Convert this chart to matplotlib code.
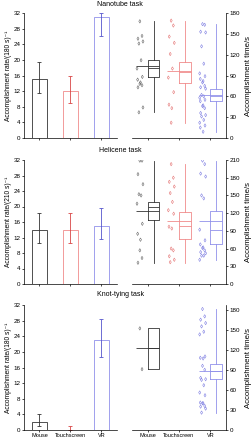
import numpy as np
import matplotlib
matplotlib.use("Agg")
import matplotlib.pyplot as plt

plt.rcParams['font.family'] = ['Liberation Sans', 'DejaVu Sans']
plt.rcParams['font.size'] = 4.5

categories = ["Mouse", "Touchscreen", "VR"]
titles = ["Nanotube task", "Helicene task", "Knot-tying task"]
rate_labels = ["Accomplishment rate/(180 s)\u207b\u00b9",
               "Accomplishment rate/(210 s)\u207b\u00b9",
               "Accomplishment rate/(180 s)\u207b\u00b9"]

# accomplishment rate (bar) with lower/upper error ends
nano_rate = [15, 12, 31]
nano_lo = [11.5, 9, 26]
nano_hi = [19.5, 16, 32]
heli_rate = [14, 14, 15]
heli_lo = [10.5, 10.5, 11.5]
heli_hi = [18.3, 18.3, 19.5]
knot_rate = [2, 0, 23]
knot_lo = [1, 0, 18.7]
knot_hi = [4, 1, 28.3]

# accomplishment times (s) per participant
nano_mouse = [168, 147, 143, 139, 136, 112, 100, 88, 84, 80, 78, 76, 73, 44, 37]
nano_touch = [169, 162, 146, 137, 121, 100, 87, 66, 48, 43, 22]
nano_vr = [164, 163, 153, 152, 132, 107, 93, 89, 85, 82, 80, 75, 73, 71, 62,
           60, 58, 55, 53, 47, 46, 43, 36, 33, 31, 26, 22, 18, 15, 9]
heli_mouse = [209, 209, 186, 169, 152, 150, 136, 102, 85, 75, 57, 44, 36]
heli_touch = [203, 180, 173, 165, 154, 139, 125, 119, 97, 94, 60, 57, 47, 41, 37]
heli_vr = [209, 203, 187, 182, 150, 145, 92, 74, 67, 62, 61, 57, 54, 52, 48, 48, 41]
knot_mouse = [152, 91]
knot_touch = []
knot_vr = [181, 170, 165, 160, 155, 147, 143, 110, 108, 107, 96, 90, 78, 76, 75,
           67, 56, 52, 41, 40, 40, 36, 35, 32, 26]

# box stats: median, q1, q3, whisker low, whisker high ; and mean line
nano_box = [(101, 88, 112, 37, 168), (95, 79, 110, 21, 169), (61, 54, 71, 8, 164)]
nano_mean = [103, 96, 62]
heli_box = [(130, 108, 139, 36, 209), (97.6, 76, 122, 36, 203), (91, 67, 124, 41, 209)]
heli_mean = [124, 107, 107]
knot_box = [(122, 91, 152, 91, 152), None, (88, 76, 98, 26, 181.5)]
knot_mean = [122, None, 88]

time_ticks = [np.arange(0, 181, 30), np.arange(0, 211, 30), np.arange(0, 181, 30)]
time_lims = [180, 210, 187]

bar_col = ['#333333', '#f08a8a', '#9090ea']
err_col = ['#333333', '#d84545', '#5555cc']
pt_col = ['#666666', '#e57575', '#8080e2']

rows = [
    (nano_rate, nano_lo, nano_hi, [nano_mouse, nano_touch, nano_vr], nano_box, nano_mean),
    (heli_rate, heli_lo, heli_hi, [heli_mouse, heli_touch, heli_vr], heli_box, heli_mean),
    (knot_rate, knot_lo, knot_hi, [knot_mouse, knot_touch, knot_vr], knot_box, knot_mean),
]

fig = plt.figure(figsize=(2.53, 4.37), dpi=100)
W, H = 253.0, 437.0
row_px = [(13, 138), (160, 284), (305, 430)]
title_y = [5, 151, 295]
jit = np.array([0.0, 0.07, -0.06, 0.1, -0.03, 0.04, -0.09, 0.08, -0.07, 0.02])
x = np.arange(1, 4)

for r, (rate, lo, hi, times, boxes, means) in enumerate(rows):
    top, bot = row_px[r]
    b = 1 - bot / H
    h = (bot - top) / H
    axl = fig.add_axes([24 / W, b, 93 / W, h])
    axr = fig.add_axes([132 / W, b, 94 / W, h])

    # bars
    for i in range(3):
        axl.bar(x[i], rate[i], width=0.5, facecolor='none', edgecolor=bar_col[i], linewidth=0.6)
        axl.errorbar(x[i], rate[i], yerr=[[rate[i] - lo[i]], [hi[i] - rate[i]]],
                     fmt='none', ecolor=err_col[i], elinewidth=0.6, capsize=1.5, capthick=0.6)
    axl.set_xlim(0.5, 3.5)
    axl.set_ylim(0, 32)
    axl.set_yticks(np.arange(0, 33, 4))
    axl.set_xticks(x)
    axl.spines[['top', 'right']].set_visible(False)
    axl.set_ylabel(rate_labels[r], fontsize=4.8)
    axl.yaxis.set_label_coords(-0.125, 0.5)
    axl.tick_params(length=1.5, width=0.5, pad=1)
    for s in axl.spines.values():
        s.set_linewidth(0.5)

    # times
    for i in range(3):
        t = times[i]
        if len(t):
            xs = x[i] - 0.25 + np.resize(jit, len(t))
            axr.scatter(xs, t, marker='d', s=3, facecolors='none', edgecolors=pt_col[i], linewidths=0.4)
        if boxes[i] is not None:
            med, q1, q3, wlo, whi = boxes[i]
            st = [dict(med=med, q1=q1, q3=q3, whislo=wlo, whishi=whi, fliers=[])]
            props = dict(color=bar_col[i], linewidth=0.6)
            axr.bxp(st, positions=[x[i] + 0.19], widths=0.37, showcaps=False,
                    boxprops=props, whiskerprops=props, medianprops=props, manage_ticks=False)
            axr.hlines(means[i], x[i] - 0.37, x[i] + 0.37, color=bar_col[i], linewidth=0.6)
    axr.set_xlim(0.5, 3.5)
    axr.set_ylim(0, time_lims[r])
    axr.set_yticks(time_ticks[r])
    axr.set_xticks(x)
    axr.yaxis.tick_right()
    axr.yaxis.set_label_position('right')
    axr.spines[['top', 'left']].set_visible(False)
    axr.set_ylabel("Accomplishment time/s", fontsize=5.6)
    axr.yaxis.set_label_coords(1.2, 0.5)
    axr.tick_params(length=1.5, width=0.5, pad=1)
    for s in axr.spines.values():
        s.set_linewidth(0.5)

    if r == 2:
        axl.set_xticklabels(categories, fontsize=4)
        axr.set_xticklabels(categories, fontsize=4)
        axl.tick_params(axis='x', pad=0.5)
        axr.tick_params(axis='x', pad=0.5)
    else:
        axl.set_xticklabels([])
        axr.set_xticklabels([])

    fig.text(0.475, 1 - title_y[r] / H, titles[r], ha='center', va='center', fontsize=5)

fig.savefig("out.png", dpi=100)
